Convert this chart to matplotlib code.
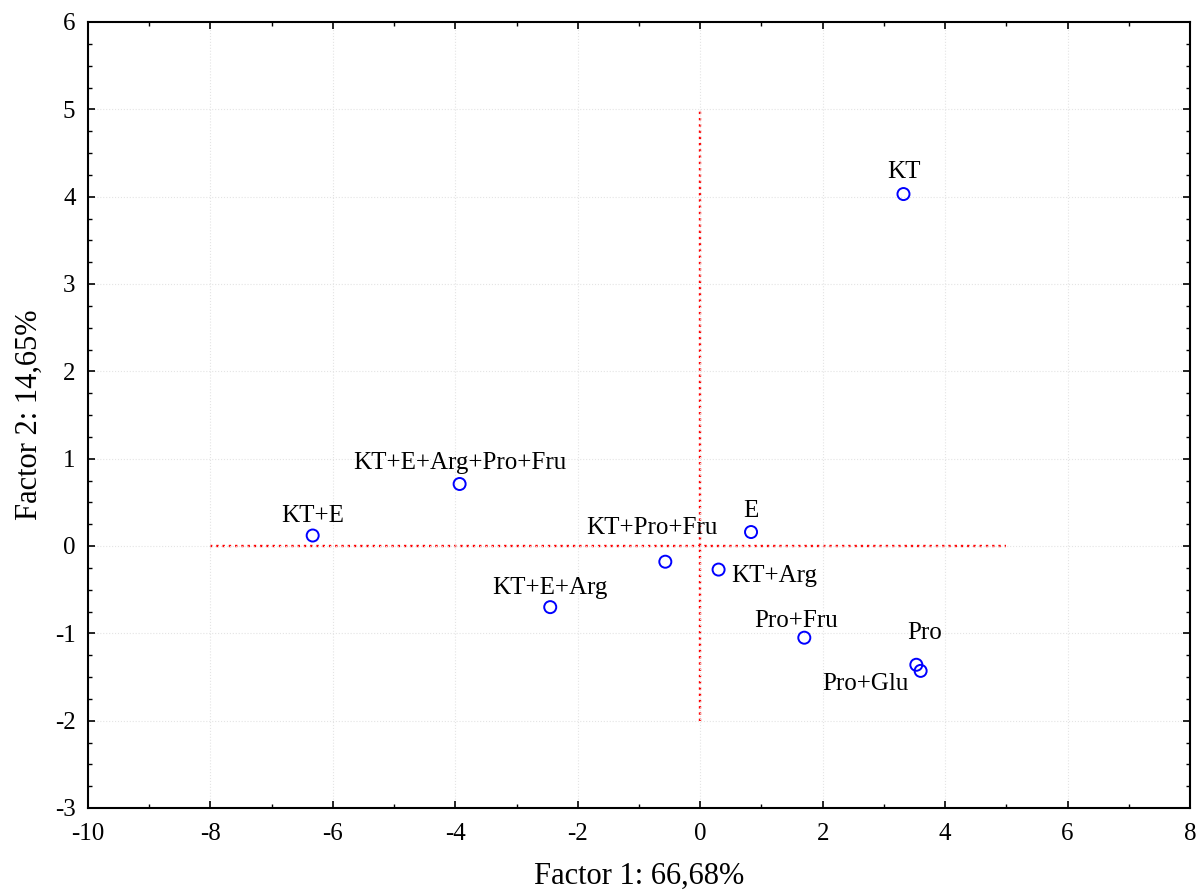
import matplotlib
matplotlib.use("Agg")
import matplotlib.pyplot as plt
from matplotlib.ticker import MultipleLocator

plt.rcParams['font.family'] = ['Liberation Serif', 'DejaVu Serif']
plt.rcParams['axes.unicode_minus'] = False

# factor scores
labels = ['KT', 'KT+E', 'KT+E+Arg+Pro+Fru', 'E', 'KT+Pro+Fru', 'KT+Arg',
          'KT+E+Arg', 'Pro+Fru', 'Pro', 'Pro+Glu']
f1 = [3.32, -6.33, -3.93, 0.83, -0.57, 0.30, -2.45, 1.70, 3.53, 3.60]
f2 = [4.03, 0.12, 0.71, 0.16, -0.18, -0.27, -0.70, -1.05, -1.36, -1.43]
# label offsets in pixels (dx, dy) and horizontal alignment
offsets = [(0, 22, 'center'), (0, 20, 'center'), (0, 21, 'center'), (0, 21, 'center'),
           (-13, 34, 'center'), (13, -6, 'left'), (0, 19, 'center'), (-8, 17, 'center'),
           (8, 32, 'center'), (-12, -13, 'right')]

fig = plt.figure(figsize=(12, 8.94), dpi=100)
ax = fig.add_axes([88/1200, 1 - 808/894, (1190-88)/1200, (808-22)/894])

ax.plot([-8, 5], [0, 0], color='red', linestyle=':', linewidth=1.7, zorder=1)
ax.plot([0, 0], [-2, 5], color='red', linestyle=':', linewidth=1.7, zorder=1)

ax.scatter(f1, f2, s=75, facecolors='none', edgecolors='blue', linewidths=1.4, zorder=3)

for lab, x, y, (dx, dy, ha) in zip(labels, f1, f2, offsets):
    ax.annotate(lab, (x, y), xytext=(dx, dy), textcoords='offset pixels',
                ha=ha, va='center', fontsize=18)

ax.set_xlim(-10, 8)
ax.set_ylim(-3, 6)
ax.xaxis.set_major_locator(MultipleLocator(2))
ax.xaxis.set_minor_locator(MultipleLocator(1))
ax.yaxis.set_major_locator(MultipleLocator(1))
ax.yaxis.set_minor_locator(MultipleLocator(0.25))
ax.tick_params(which='both', direction='in', labelsize=18, top=True, right=True)
ax.tick_params(which='major', length=5, width=1.2)
ax.tick_params(axis='y', which='major', pad=9)
ax.tick_params(axis='x', which='major', pad=11)
ax.tick_params(which='minor', length=3, width=1)
ax.grid(True, which='major', color='#e4e4e4', linestyle=':', linewidth=0.8)
for s in ax.spines.values():
    s.set_linewidth(1.5)

ax.set_xlabel('Factor 1: 66,68%', fontsize=22, labelpad=12)
ax.set_ylabel('Factor 2: 14,65%', fontsize=22, labelpad=8)

fig.savefig('out.png', dpi=100)
